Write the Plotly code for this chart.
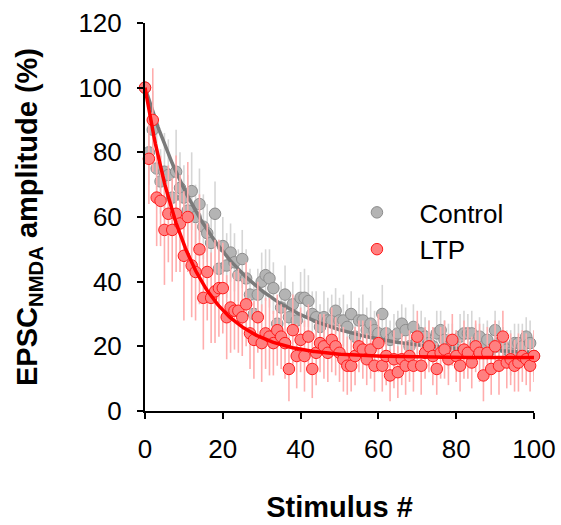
import numpy as np
import plotly.graph_objects as go

stimulus = list(range(0, 101))

control_mean = [100, 80, 87, 75, 71, 74, 73, 66, 74, 69,
                66, 62, 68, 60, 64, 57, 55, 52, 61, 44,
                51, 45, 49, 46, 42, 47, 41, 36, 30, 36,
                40, 42, 41, 38, 27, 32, 36, 29, 33, 28,
                35, 35, 34, 30, 29, 26, 29, 28, 28, 31,
                28, 28, 26, 30, 23, 28, 28, 25, 27, 25,
                24, 30, 24, 22, 23, 24, 27, 25, 20, 26,
                22, 24, 23, 21, 20, 24, 25, 22, 20, 21,
                19, 23, 24, 24, 24, 21, 23, 20, 22, 19,
                25, 21, 20, 19, 18, 21, 21, 20, 23, 21, 17]
control_sem = [0, 10, 12, 11, 10, 12, 11, 10, 13, 11,
               10, 11, 12, 10, 11, 10, 9, 10, 10, 9,
               9, 10, 9, 9, 8, 9, 9, 8, 9, 8,
               9, 8, 9, 8, 8, 8, 9, 8, 7, 8,
               8, 9, 8, 7, 8, 7, 8, 7, 8, 7,
               7, 8, 7, 7, 6, 7, 8, 7, 7, 6,
               7, 9, 7, 6, 7, 7, 6, 7, 6, 7,
               6, 7, 6, 7, 6, 7, 6, 6, 7, 6,
               6, 7, 7, 6, 7, 6, 6, 7, 6, 7,
               6, 7, 6, 6, 7, 6, 6, 7, 6, 7, 6]

ltp_mean = [100, 78, 90, 66, 65, 56, 61, 56, 61, 58,
            48, 60, 45, 43, 50, 35, 43, 35, 37, 38,
            38, 29, 32, 31, 31, 29, 33, 24, 22, 29,
            21, 24, 23, 21, 25, 23, 21, 13, 25, 17,
            22, 17, 23, 13, 18, 21, 20, 18, 22, 20,
            18, 16, 14, 14, 17, 20, 19, 16, 19, 14,
            21, 14, 17, 11, 16, 12, 16, 14, 17, 14,
            23, 14, 18, 20, 17, 13, 18, 19, 16, 22,
            17, 14, 19, 18, 15, 20, 18, 11, 18, 13,
            20, 14, 23, 15, 16, 14, 15, 17, 16, 14, 17]
ltp_sem = [0, 14, 16, 15, 14, 17, 15, 16, 18, 15,
           20, 17, 16, 15, 17, 16, 15, 14, 16, 15,
           14, 13, 14, 12, 13, 12, 13, 11, 12, 11,
           12, 11, 12, 10, 11, 10, 11, 10, 11, 10,
           10, 11, 10, 9, 10, 9, 10, 9, 10, 9,
           9, 10, 9, 8, 9, 8, 9, 8, 9, 8,
           9, 8, 9, 8, 9, 8, 8, 9, 8, 8,
           8, 9, 8, 8, 9, 8, 8, 9, 8, 8,
           8, 8, 9, 8, 8, 8, 9, 8, 8, 8,
           8, 9, 8, 8, 8, 8, 9, 8, 8, 8, 8]

# mono-exponential fit parameters (plateau, tau)
control_fit = dict(plateau=17.5, tau=21.0)
ltp_fit = dict(plateau=16.5, tau=11.5)

x_fit = np.linspace(0, 100, 301)


def expfit(p):
    return p["plateau"] + (100 - p["plateau"]) * np.exp(-x_fit / p["tau"])


FONT = "Arial, Liberation Sans, sans-serif"

fig = go.Figure()
fig.add_trace(go.Scatter(
    x=stimulus, y=control_mean, mode="markers", name="Control",
    marker=dict(size=11.5, color="#b4b4b4", line=dict(color="#8c8c8c", width=1)),
    error_y=dict(type="data", array=control_sem, visible=True, color="#d6d6d6",
                 thickness=1.6, width=0),
    cliponaxis=False,
))
fig.add_trace(go.Scatter(
    x=x_fit, y=expfit(control_fit), mode="lines", showlegend=False,
    line=dict(color="#7a7a7a", width=3.5), hoverinfo="skip",
))
fig.add_trace(go.Scatter(
    x=stimulus, y=ltp_mean, mode="markers", name="LTP",
    marker=dict(size=11.5, color="#ff8080", line=dict(color="#ff1a1a", width=1)),
    error_y=dict(type="data", array=ltp_sem, visible=True, color="#ffadad",
                 thickness=1.6, width=0),
    cliponaxis=False,
))
fig.add_trace(go.Scatter(
    x=x_fit, y=expfit(ltp_fit), mode="lines", showlegend=False,
    line=dict(color="#ff0000", width=3.5), hoverinfo="skip",
))

fig.update_layout(
    width=561, height=525,
    margin=dict(l=145, r=27, t=23, b=114),
    paper_bgcolor="white", plot_bgcolor="white",
    font=dict(family=FONT, size=26, color="black"),
    showlegend=True,
    legend=dict(x=0.487, y=0.464, xanchor="left", yanchor="middle",
                bgcolor="rgba(0,0,0,0)", font=dict(size=26, family=FONT),
                itemwidth=75, tracegroupgap=0),
    xaxis=dict(range=[0, 100], tickvals=[0, 20, 40, 60, 80, 100],
               showgrid=False, zeroline=False, showline=True, automargin=False,
               linecolor="black", linewidth=2, ticks="outside",
               ticklen=6, tickwidth=2, tickcolor="black",
               tickfont=dict(size=26), ticklabelstandoff=8,
               title=dict(text="<b>Stimulus #</b>", font=dict(size=29),
                          standoff=33)),
    yaxis=dict(range=[0, 120], tickvals=[0, 20, 40, 60, 80, 100, 120],
               showgrid=False, zeroline=False, showline=True, automargin=False,
               linecolor="black", linewidth=2, ticks="outside",
               ticklen=6, tickwidth=2, tickcolor="black",
               tickfont=dict(size=26), ticklabelstandoff=10,
               title=dict(text="<b>EPSC<sub>NMDA</sub> amplitude (%)</b>",
                          font=dict(size=29), standoff=32)),
)

fig.write_html(
    "out.html",
    config={"displayModeBar": False},
    post_script="document.body.style.margin='0';document.body.style.overflow='hidden';",
)
